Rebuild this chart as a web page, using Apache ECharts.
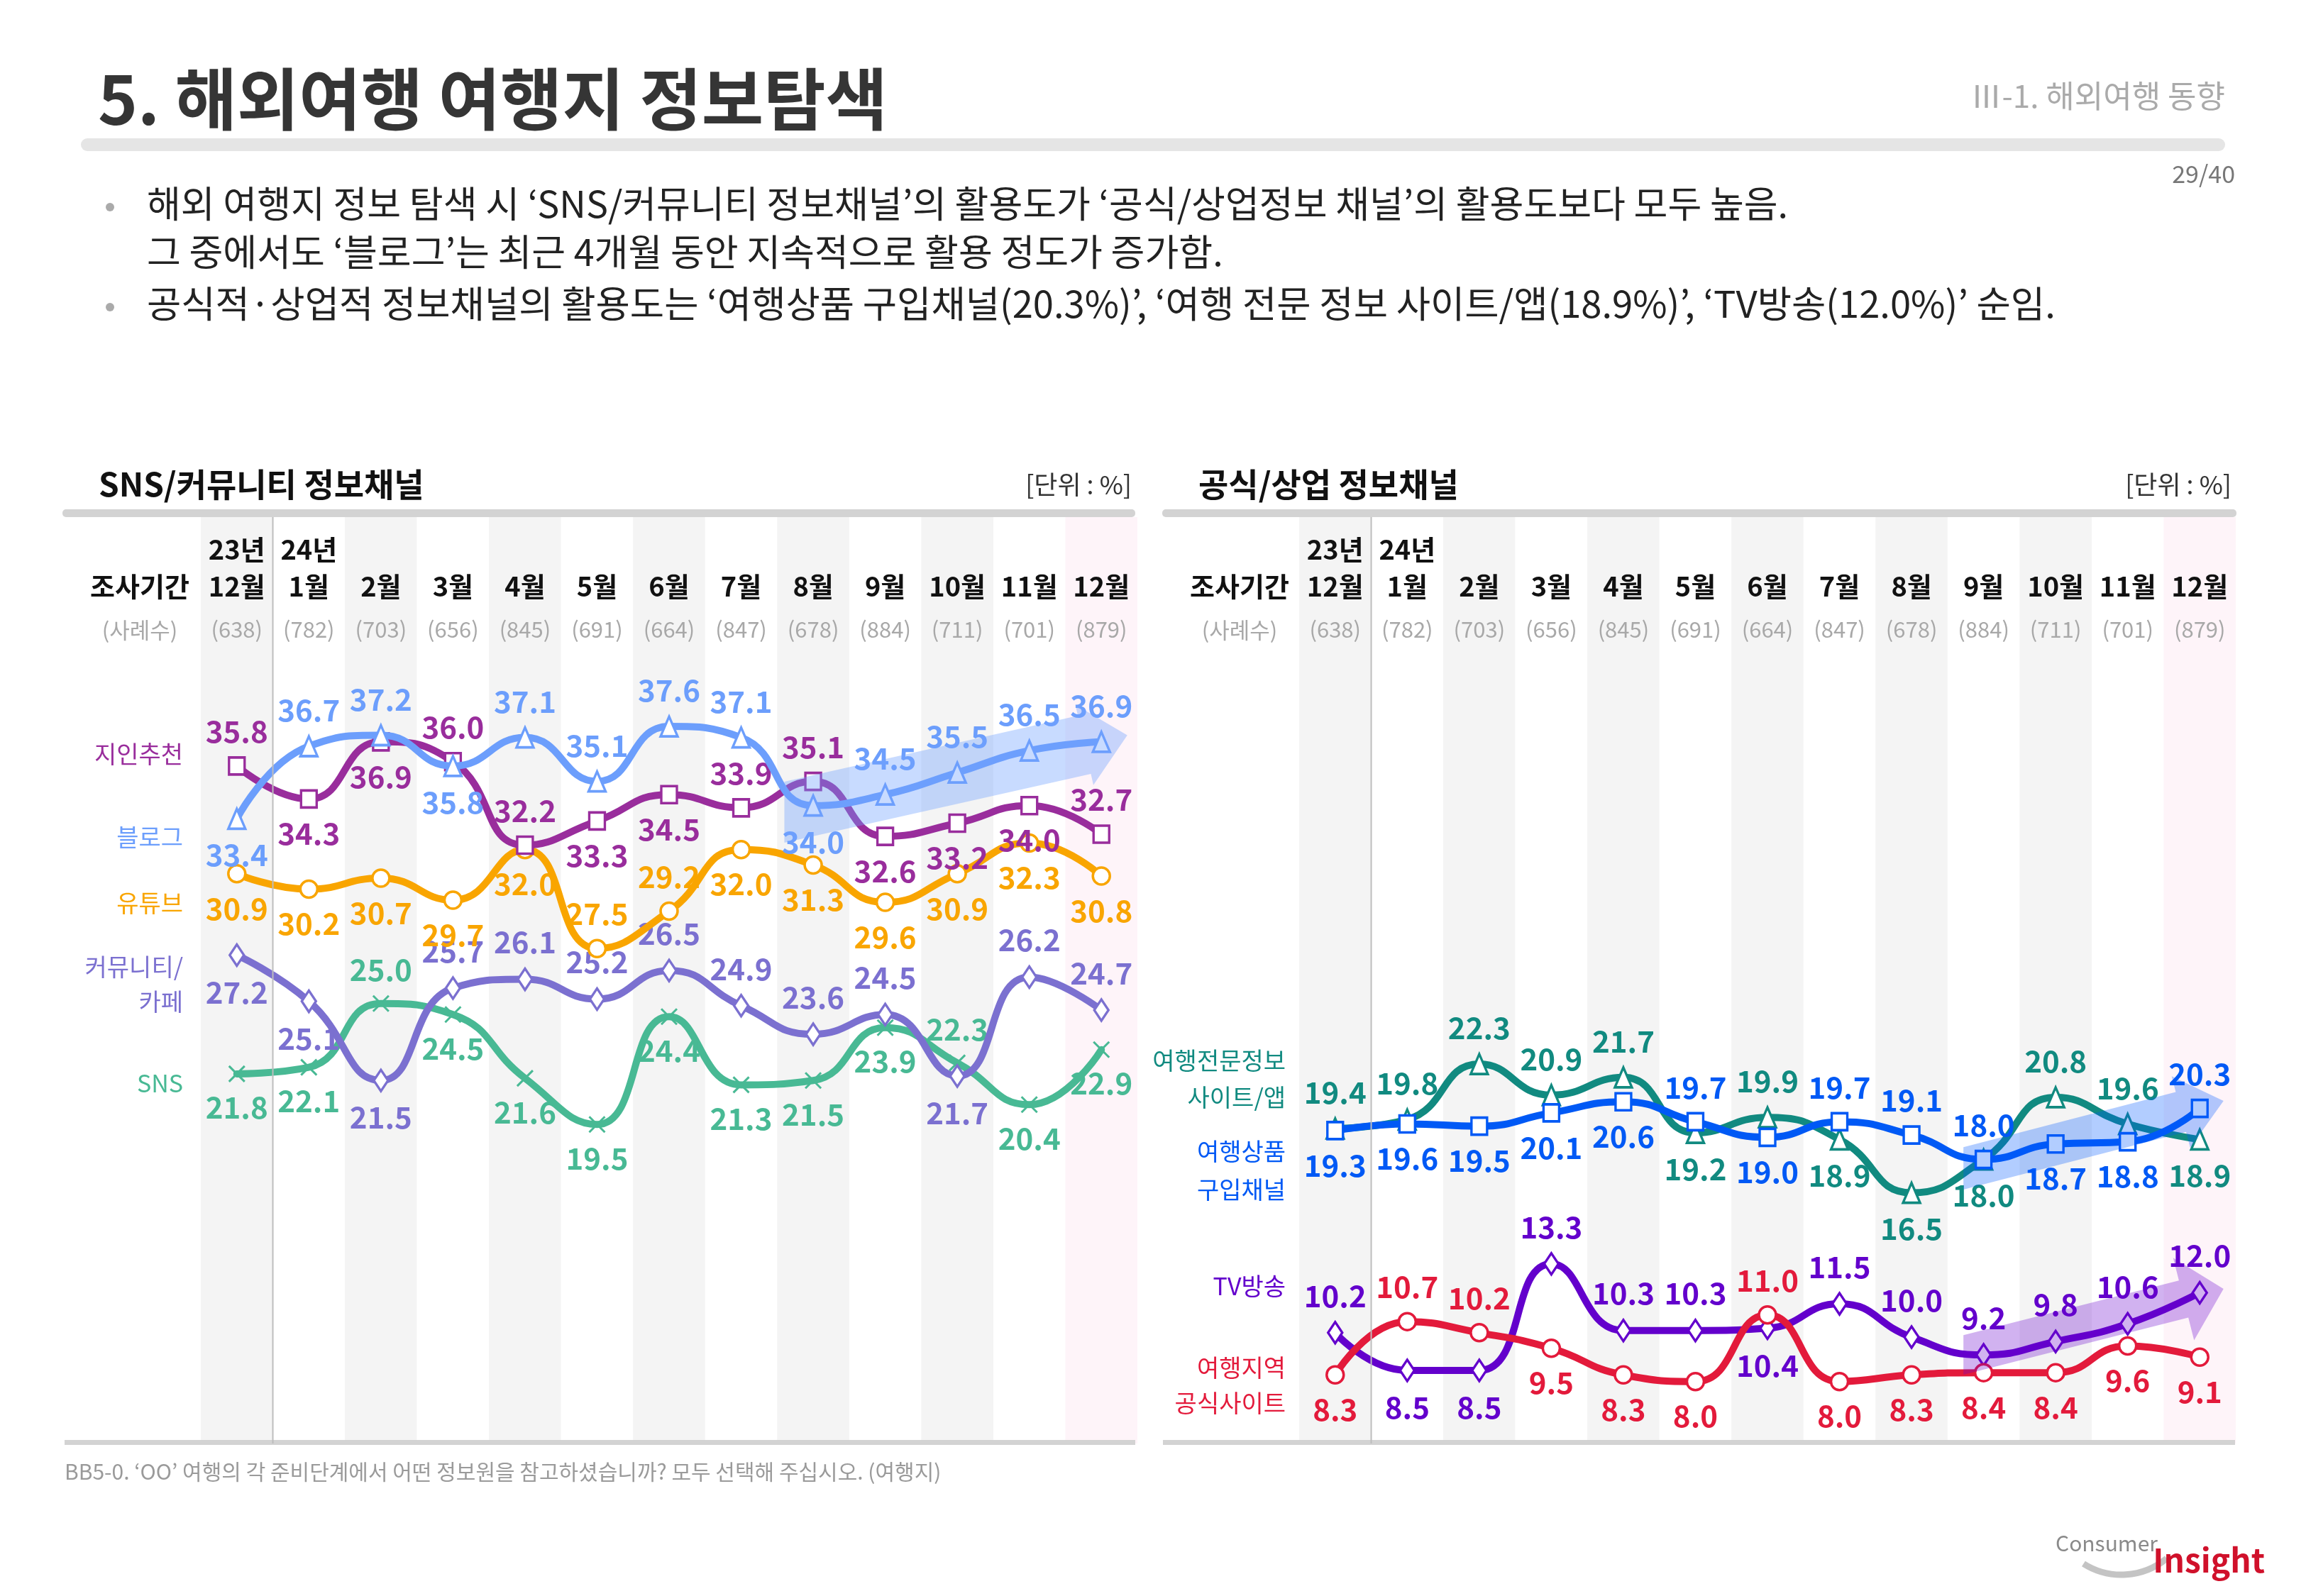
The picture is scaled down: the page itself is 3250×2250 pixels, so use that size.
<!DOCTYPE html>
<html><head><meta charset="utf-8">
<script src="https://cdn.jsdelivr.net/npm/echarts@6/dist/echarts.min.js"></script>
<style>html,body{margin:0;padding:0;background:#fff}#c{width:3250px;height:2250px}</style>
</head><body><div id="c"></div>
<script>
// ---------- data ----------
const months = ['12월','1월','2월','3월','4월','5월','6월','7월','8월','9월','10월','11월','12월'];
const years = ['23년','24년','','','','','','','','','','',''];
const samples = ['(638)','(782)','(703)','(656)','(845)','(691)','(664)','(847)','(678)','(884)','(711)','(701)','(879)'];

const friend    = [35.8,34.3,36.9,36.0,32.2,33.3,34.5,33.9,35.1,32.6,33.2,34.0,32.7];
const blog      = [33.4,36.7,37.2,35.8,37.1,35.1,37.6,37.1,34.0,34.5,35.5,36.5,36.9];
const youtube   = [30.9,30.2,30.7,29.7,32.0,27.5,29.2,32.0,31.3,29.6,30.9,32.3,30.8];
const community = [27.2,25.1,21.5,25.7,26.1,25.2,26.5,24.9,23.6,24.5,21.7,26.2,24.7];
const sns       = [21.8,22.1,25.0,24.5,21.6,19.5,24.4,21.3,21.5,23.9,22.3,20.4,22.9];

const travelInfo     = [19.4,19.8,22.3,20.9,21.7,19.2,19.9,18.9,16.5,18.0,20.8,19.6,18.9];
const productChannel = [19.3,19.6,19.5,20.1,20.6,19.7,19.0,19.7,19.1,18.0,18.7,18.8,20.3];
const tv             = [10.2,8.5,8.5,13.3,10.3,10.3,10.4,11.5,10.0,9.2,9.8,10.6,12.0];
const regionSite     = [8.3,10.7,10.2,9.5,8.3,8.0,11.0,8.0,8.3,8.4,8.4,9.6,9.1];

// label placement (T = above, B = below)
const posFriend    = 'TBBTTBBTTBBBT';
const posBlog      = 'BTTBTTTTBTTTT';
const posYoutube   = 'BBBBBTTBBBBBB';
const posCommunity = 'BBBTTTTTTTBTT';
const posSns       = 'BBTBBBBBBBTBB';
const posTravel    = 'TTTTTBTBBBTTB';
const posProduct   = 'BBBBBTBTTTBBT';
const posTv        = 'TBBTTTBTTTTTT';
const posRegion    = 'BTTBBBTBBBBBB';

// ---------- styling ----------
const FF = '"Noto Sans CJK KR","Noto Sans",sans-serif';
const GL = {left:283, top:729, width:1320, height:1306};
const GR = {left:1831, top:729, width:1320, height:1306};
const bandColors = ['#f4f4f4','#ffffff','#f4f4f4','#ffffff','#f4f4f4','#ffffff','#f4f4f4','#ffffff','#f4f4f4','#ffffff','#f4f4f4','#ffffff','#fef4f9'];

const C = {
  friend:'#992d9c', blog:'#6c9efc', youtube:'#f9a500', community:'#7b70d0', sns:'#48b994',
  travel:'#118a80', product:'#0059f5', tv:'#6300cc', region:'#e31a3b'
};

function xAxis(gi){
  return {
    type:'category', gridIndex:gi, data:months, position:'top', boundaryGap:true,
    axisLine:{show:false}, axisTick:{show:false}, splitLine:{show:false},
    splitArea:{show:true, interval:0, areaStyle:{color:bandColors}},
    axisLabel:{
      inside:true, interval:0, margin:20,
      formatter:(v,i)=>`{yr|${years[i]||' '}}\n{mo|${v}}\n{n|${samples[i]}}`,
      rich:{
        yr:{fontSize:38,fontWeight:'bold',color:'#111',lineHeight:52,fontFamily:FF,align:'center'},
        mo:{fontSize:38,fontWeight:'bold',color:'#111',lineHeight:52,fontFamily:FF,align:'center'},
        n:{fontSize:31,color:'#a8a8a8',lineHeight:68,fontFamily:FF,align:'center'}
      }
    }
  };
}
function yAxis(gi,min,max){ return {type:'value',gridIndex:gi,min,max,show:false,splitLine:{show:false}}; }

function line(name, data, pos, color, symbol, size, gi, z){
  return {
    type:'line', name, xAxisIndex:gi, yAxisIndex:gi, z,
    data:data.map((v,i)=>({value:v,label:{position:pos[i]==='T'?'top':'bottom'}})),
    smooth:0.5, symbol, symbolSize:size, showAllSymbol:true,
    lineStyle:{color, width:10, cap:'round', join:'round'},
    itemStyle:{color:'#fff', borderColor:color, borderWidth:3.5},
    label:{show:true, color, fontSize:42, fontWeight:'bold', fontFamily:FF, distance:14,
      formatter:p=>Number(p.value).toFixed(1)},
    emphasis:{disabled:true}, animation:false
  };
}

// decorative trend arrows (category index, value) -> drawn via axis coords
const leftArrows  = [{from:[7.6,33.7], tip:[12.36,37.2], shaft:42, wing:58, head:62, color:'rgba(111,160,255,0.38)'}];
const rightArrows = [
  {from:[8.72,17.6], tip:[12.33,20.64], shaft:29, wing:52, head:62, color:'rgba(0,90,255,0.3)'},
  {from:[8.72,9.2],  tip:[12.33,12.17], shaft:27, wing:60, head:58, color:'rgba(102,0,204,0.3)'}
];
function pt(api, idx, v){
  const a = api.coord([0,v]), b = api.coord([1,v]);
  return [a[0]+(b[0]-a[0])*idx, a[1]];
}
function arrowSeries(list, gi){
  return {
    type:'custom', xAxisIndex:gi, yAxisIndex:gi, clip:false, silent:true, z:20, animation:false,
    data:list.map(a=>[0,a.from[1]]),
    renderItem:(params, api)=>{
      const s = list[params.dataIndex];
      const p0 = pt(api, s.from[0], s.from[1]);
      const t = pt(api, s.tip[0], s.tip[1]);
      const dx=t[0]-p0[0], dy=t[1]-p0[1], L=Math.hypot(dx,dy);
      const ux=dx/L, uy=dy/L, nx=-uy, ny=ux;
      const hb=[t[0]-ux*s.head, t[1]-uy*s.head];
      const k=s.shaft/ux;
      const pts=[
        [p0[0], p0[1]-k],
        [hb[0]-nx*s.shaft, hb[1]-ny*s.shaft],
        [hb[0]-nx*s.wing, hb[1]-ny*s.wing],
        t,
        [hb[0]+nx*s.wing, hb[1]+ny*s.wing],
        [hb[0]+nx*s.shaft, hb[1]+ny*s.shaft],
        [p0[0], p0[1]+k]
      ];
      return {type:'polygon', shape:{points:pts}, style:{fill:s.color}};
    }
  };
}

const xMark = 'path://M0,0L10,10M10,0L0,10';

const series = [
  line('SNS', sns, posSns, C.sns, xMark, [22,22], 0, 3),
  line('커뮤니티/카페', community, posCommunity, C.community, 'diamond', [20,30], 0, 4),
  line('유튜브', youtube, posYoutube, C.youtube, 'circle', 24, 0, 5),
  line('지인추천', friend, posFriend, C.friend, 'rect', [22,24], 0, 6),
  line('블로그', blog, posBlog, C.blog, 'triangle', [24,28], 0, 7),
  arrowSeries(leftArrows, 0),
  line('TV방송', tv, posTv, C.tv, 'diamond', [20,30], 1, 3),
  line('여행지역 공식사이트', regionSite, posRegion, C.region, 'circle', 24, 1, 4),
  line('여행전문정보 사이트/앱', travelInfo, posTravel, C.travel, 'triangle', [24,28], 1, 5),
  line('여행상품 구입채널', productChannel, posProduct, C.product, 'rect', [22,24], 1, 6),
  arrowSeries(rightArrows, 1)
];
series[0].itemStyle = {color:'rgba(255,255,255,0.6)', borderColor:C.sns, borderWidth:3};

function txt(text,x,y,size,color,opts={}){
  return {type:'text', z:100, style:{text,x,y,fill:color,fontSize:size,fontFamily:FF,
    fontWeight:opts.weight||'normal', align:opts.align||'left', verticalAlign:'middle',
    lineHeight:opts.lh||undefined}};
}

const graphic = [
  txt('5. 해외여행 여행지 정보탐색', 138, 140, 95, '#353535', {weight:'bold'}),
  txt('Ⅲ-1. 해외여행 동향', 3136, 135, 44, '#aaaaaa', {align:'right'}),
  {type:'rect', z:1, shape:{x:114,y:195,width:3022,height:18,r:9}, style:{fill:'#e5e5e5'}},
  txt('29/40', 3150, 245, 34, '#777', {align:'right'}),
  {type:'circle', z:100, shape:{cx:155,cy:292,r:6}, style:{fill:'#aaa'}},
  {type:'circle', z:100, shape:{cx:155,cy:433,r:6}, style:{fill:'#aaa'}},
  txt('해외 여행지 정보 탐색 시 ‘SNS/커뮤니티 정보채널’의 활용도가 ‘공식/상업정보 채널’의 활용도보다 모두 높음.', 207, 287, 52, '#222'),
  txt('그 중에서도 ‘블로그’는 최근 4개월 동안 지속적으로 활용 정도가 증가함.', 207, 355, 52, '#222'),
  txt('공식적·상업적 정보채널의 활용도는 ‘여행상품 구입채널(20.3%)’, ‘여행 전문 정보 사이트/앱(18.9%)’, ‘TV방송(12.0%)’ 순임.', 207, 428, 52.5, '#222'),

  txt('SNS/커뮤니티 정보채널', 139, 683, 46, '#111', {weight:'bold'}),
  txt('[단위 : %]', 1595, 683, 36, '#333', {align:'right'}),
  txt('공식/상업 정보채널', 1689, 683, 46, '#111', {weight:'bold'}),
  txt('[단위 : %]', 3145, 683, 36, '#333', {align:'right'}),

  {type:'rect', z:1, shape:{x:88,y:718,width:1512,height:11,r:5}, style:{fill:'#d3d3d3'}},
  {type:'rect', z:1, shape:{x:1638,y:718,width:1514,height:11,r:5}, style:{fill:'#d3d3d3'}},
  {type:'rect', z:1, shape:{x:91,y:2030,width:1509,height:7}, style:{fill:'#d3d3d3'}},
  {type:'rect', z:1, shape:{x:1639,y:2030,width:1511,height:7}, style:{fill:'#d3d3d3'}},
  {type:'line', z:50, shape:{x1:GL.left+GL.width/13, y1:729, x2:GL.left+GL.width/13, y2:2035}, style:{stroke:'#bdbdbd', lineWidth:2}},
  {type:'line', z:50, shape:{x1:GR.left+GR.width/13, y1:729, x2:GR.left+GR.width/13, y2:2035}, style:{stroke:'#bdbdbd', lineWidth:2}},

  txt('조사기간', 197, 827, 38, '#111', {weight:'bold', align:'center'}),
  txt('(사례수)', 197, 888, 31, '#a8a8a8', {align:'center'}),
  txt('조사기간', 1747, 827, 38, '#111', {weight:'bold', align:'center'}),
  txt('(사례수)', 1747, 888, 31, '#a8a8a8', {align:'center'}),

  txt('지인추천', 258, 1063, 34, C.friend, {align:'right'}),
  txt('블로그', 258, 1180, 34, C.blog, {align:'right'}),
  txt('유튜브', 258, 1273, 34, C.youtube, {align:'right'}),
  txt('커뮤니티/\n카페', 258, 1388, 34, C.community, {align:'right', lh:49}),
  txt('SNS', 258, 1527, 34, C.sns, {align:'right'}),

  txt('여행전문정보\n사이트/앱', 1812, 1521, 34, C.travel, {align:'right', lh:52}),
  txt('여행상품\n구입채널', 1812, 1650, 34, C.product, {align:'right', lh:54}),
  txt('TV방송', 1812, 1813, 34, C.tv, {align:'right'}),
  txt('여행지역\n공식사이트', 1812, 1953, 34, C.region, {align:'right', lh:50}),

  txt('BB5-0. ‘OO’ 여행의 각 준비단계에서 어떤 정보원을 참고하셨습니까? 모두 선택해 주십시오. (여행지)', 91, 2075, 30, '#9a9a9a'),
  {type:'arc', z:99, shape:{cx:2990, cy:2120, r:100, startAngle:Math.PI*0.28, endAngle:Math.PI*0.68}, style:{stroke:'#c4c4c4', lineWidth:9, fill:null}},
  txt('Consumer', 2897, 2176, 30, '#8a8a8a'),
  txt('Insight', 3192, 2200, 46, '#d0112b', {weight:'bold', align:'right'})
];

const option = {
  animation:false,
  backgroundColor:'#fff',
  textStyle:{fontFamily:FF},
  grid:[GL, GR],
  xAxis:[xAxis(0), xAxis(1)],
  yAxis:[yAxis(0,4.99,47.12), yAxis(1,5.21,46.93)],
  series,
  graphic
};
const chart = echarts.init(document.getElementById('c'), null, {renderer:'canvas'});
chart.setOption(option);
</script></body></html>
